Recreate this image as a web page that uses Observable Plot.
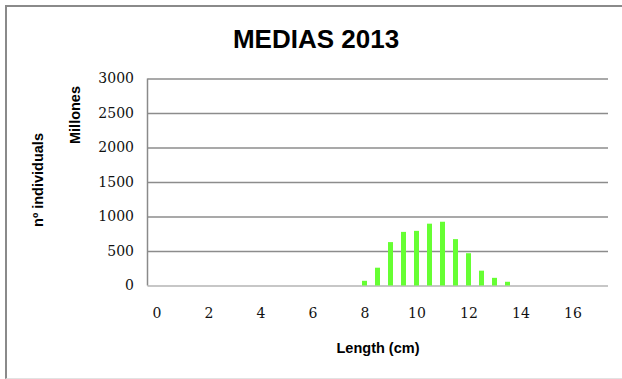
<!DOCTYPE html>
<html>
<head>
<meta charset="utf-8">
<script src="https://cdn.jsdelivr.net/npm/d3@7"></script>
<script src="https://cdn.jsdelivr.net/npm/@observablehq/plot@0.6"></script>
<style>
  html, body { margin: 0; padding: 0; background: #fff; }
  #chart {
    position: relative; width: 622px; height: 379px; overflow: hidden;
    font-family: "Liberation Sans", Arial, sans-serif;
  }
  #border {
    position: absolute; left: 5px; top: 5px; right: -2px; bottom: 0px;
    border-left: 2px solid #8a8a8a; border-top: 2px solid #8a8a8a;
    border-bottom: 1px solid #e2e2e2; box-sizing: border-box;
  }
  #chart svg { position: absolute; left: 0; top: 0; }
  .lbl { position: absolute; font-weight: bold; color: #000; white-space: nowrap; }
  #title { font-size: 26px; left: 316px; top: 39px; transform: translate(-50%, -50%); }
  #xlabel { font-size: 14.5px; left: 378px; top: 348px; transform: translate(-50%, -50%); }
  #ylabel1 { font-size: 14.5px; left: 38px; top: 180px; transform: translate(-50%, -50%) rotate(-90deg); }
  #ylabel2 { font-size: 14.5px; left: 75px; top: 115px; transform: translate(-50%, -50%) rotate(-90deg); }
</style>
</head>
<body>
<div id="chart">
  <div id="border"></div>
  <div class="lbl" id="title">MEDIAS 2013</div>
  <div class="lbl" id="xlabel">Length (cm)</div>
  <div class="lbl" id="ylabel1">nº individuals</div>
  <div class="lbl" id="ylabel2">Millones</div>
</div>
<script>
// Length classes on the category axis (half-centimetre steps)
const lengthClasses = [0, 0.5, 1, 1.5, 2, 2.5, 3, 3.5, 4, 4.5, 5, 5.5, 6, 6.5, 7, 7.5,
  8, 8.5, 9, 9.5, 10, 10.5, 11, 11.5, 12, 12.5, 13, 13.5, 14, 14.5, 15, 15.5, 16, 16.5, 17];
// Lengths with catches and the number of individuals (millions)
const lengths = [8, 8.5, 9, 9.5, 10, 10.5, 11, 11.5, 12, 12.5, 13, 13.5];
const individuals = [68, 258, 629, 777, 792, 896, 924, 672, 468, 215, 111, 54];
// Axis tick labels
const xTicks = [0, 2, 4, 6, 8, 10, 12, 14, 16];
const yTicks = [0, 500, 1000, 1500, 2000, 2500, 3000];

const data = lengths.map((l, i) => ({length: l, value: individuals[i]}));

// Vertical axis line along the left edge of the plot area
const leftAxisLine = (index, scales, values, dims) => {
  const line = document.createElementNS("http://www.w3.org/2000/svg", "line");
  line.setAttribute("x1", dims.marginLeft);
  line.setAttribute("x2", dims.marginLeft);
  line.setAttribute("y1", dims.marginTop);
  line.setAttribute("y2", dims.height - dims.marginBottom);
  line.setAttribute("stroke", "#8a8a8a");
  line.setAttribute("stroke-width", 1.5);
  return line;
};

const chart = Plot.plot({
  width: 622,
  height: 379,
  marginLeft: 147.5,
  marginRight: 14,
  marginTop: 78.5,
  marginBottom: 93.5,
  style: {fontFamily: "'DejaVu Serif', serif", fontSize: "14px", color: "#111", background: "transparent"},
  x: {type: "band", domain: lengthClasses, paddingInner: 0.58, paddingOuter: 0.29, label: null},
  y: {domain: [0, 3000], label: null},
  marks: [
    Plot.ruleY(yTicks.filter(d => d > 0), {stroke: "#8c8c8c", strokeWidth: 1.5, strokeOpacity: 1}),
    Plot.ruleY([0], {stroke: "#b4b4b4", strokeWidth: 1.5, strokeOpacity: 1}),
    leftAxisLine,
    Plot.barY(data, {x: "length", y: "value", fill: "#66ff33", inset: 0}),
    Plot.axisX({ticks: xTicks, tickSize: 0, tickPadding: 22, label: null, fontSize: 14}),
    Plot.axisY({ticks: yTicks, tickSize: 0, tickPadding: 14, label: null, fontSize: 14, tickFormat: d => String(d)})
  ]
});

document.getElementById("chart").appendChild(chart);
</script>
</body>
</html>
